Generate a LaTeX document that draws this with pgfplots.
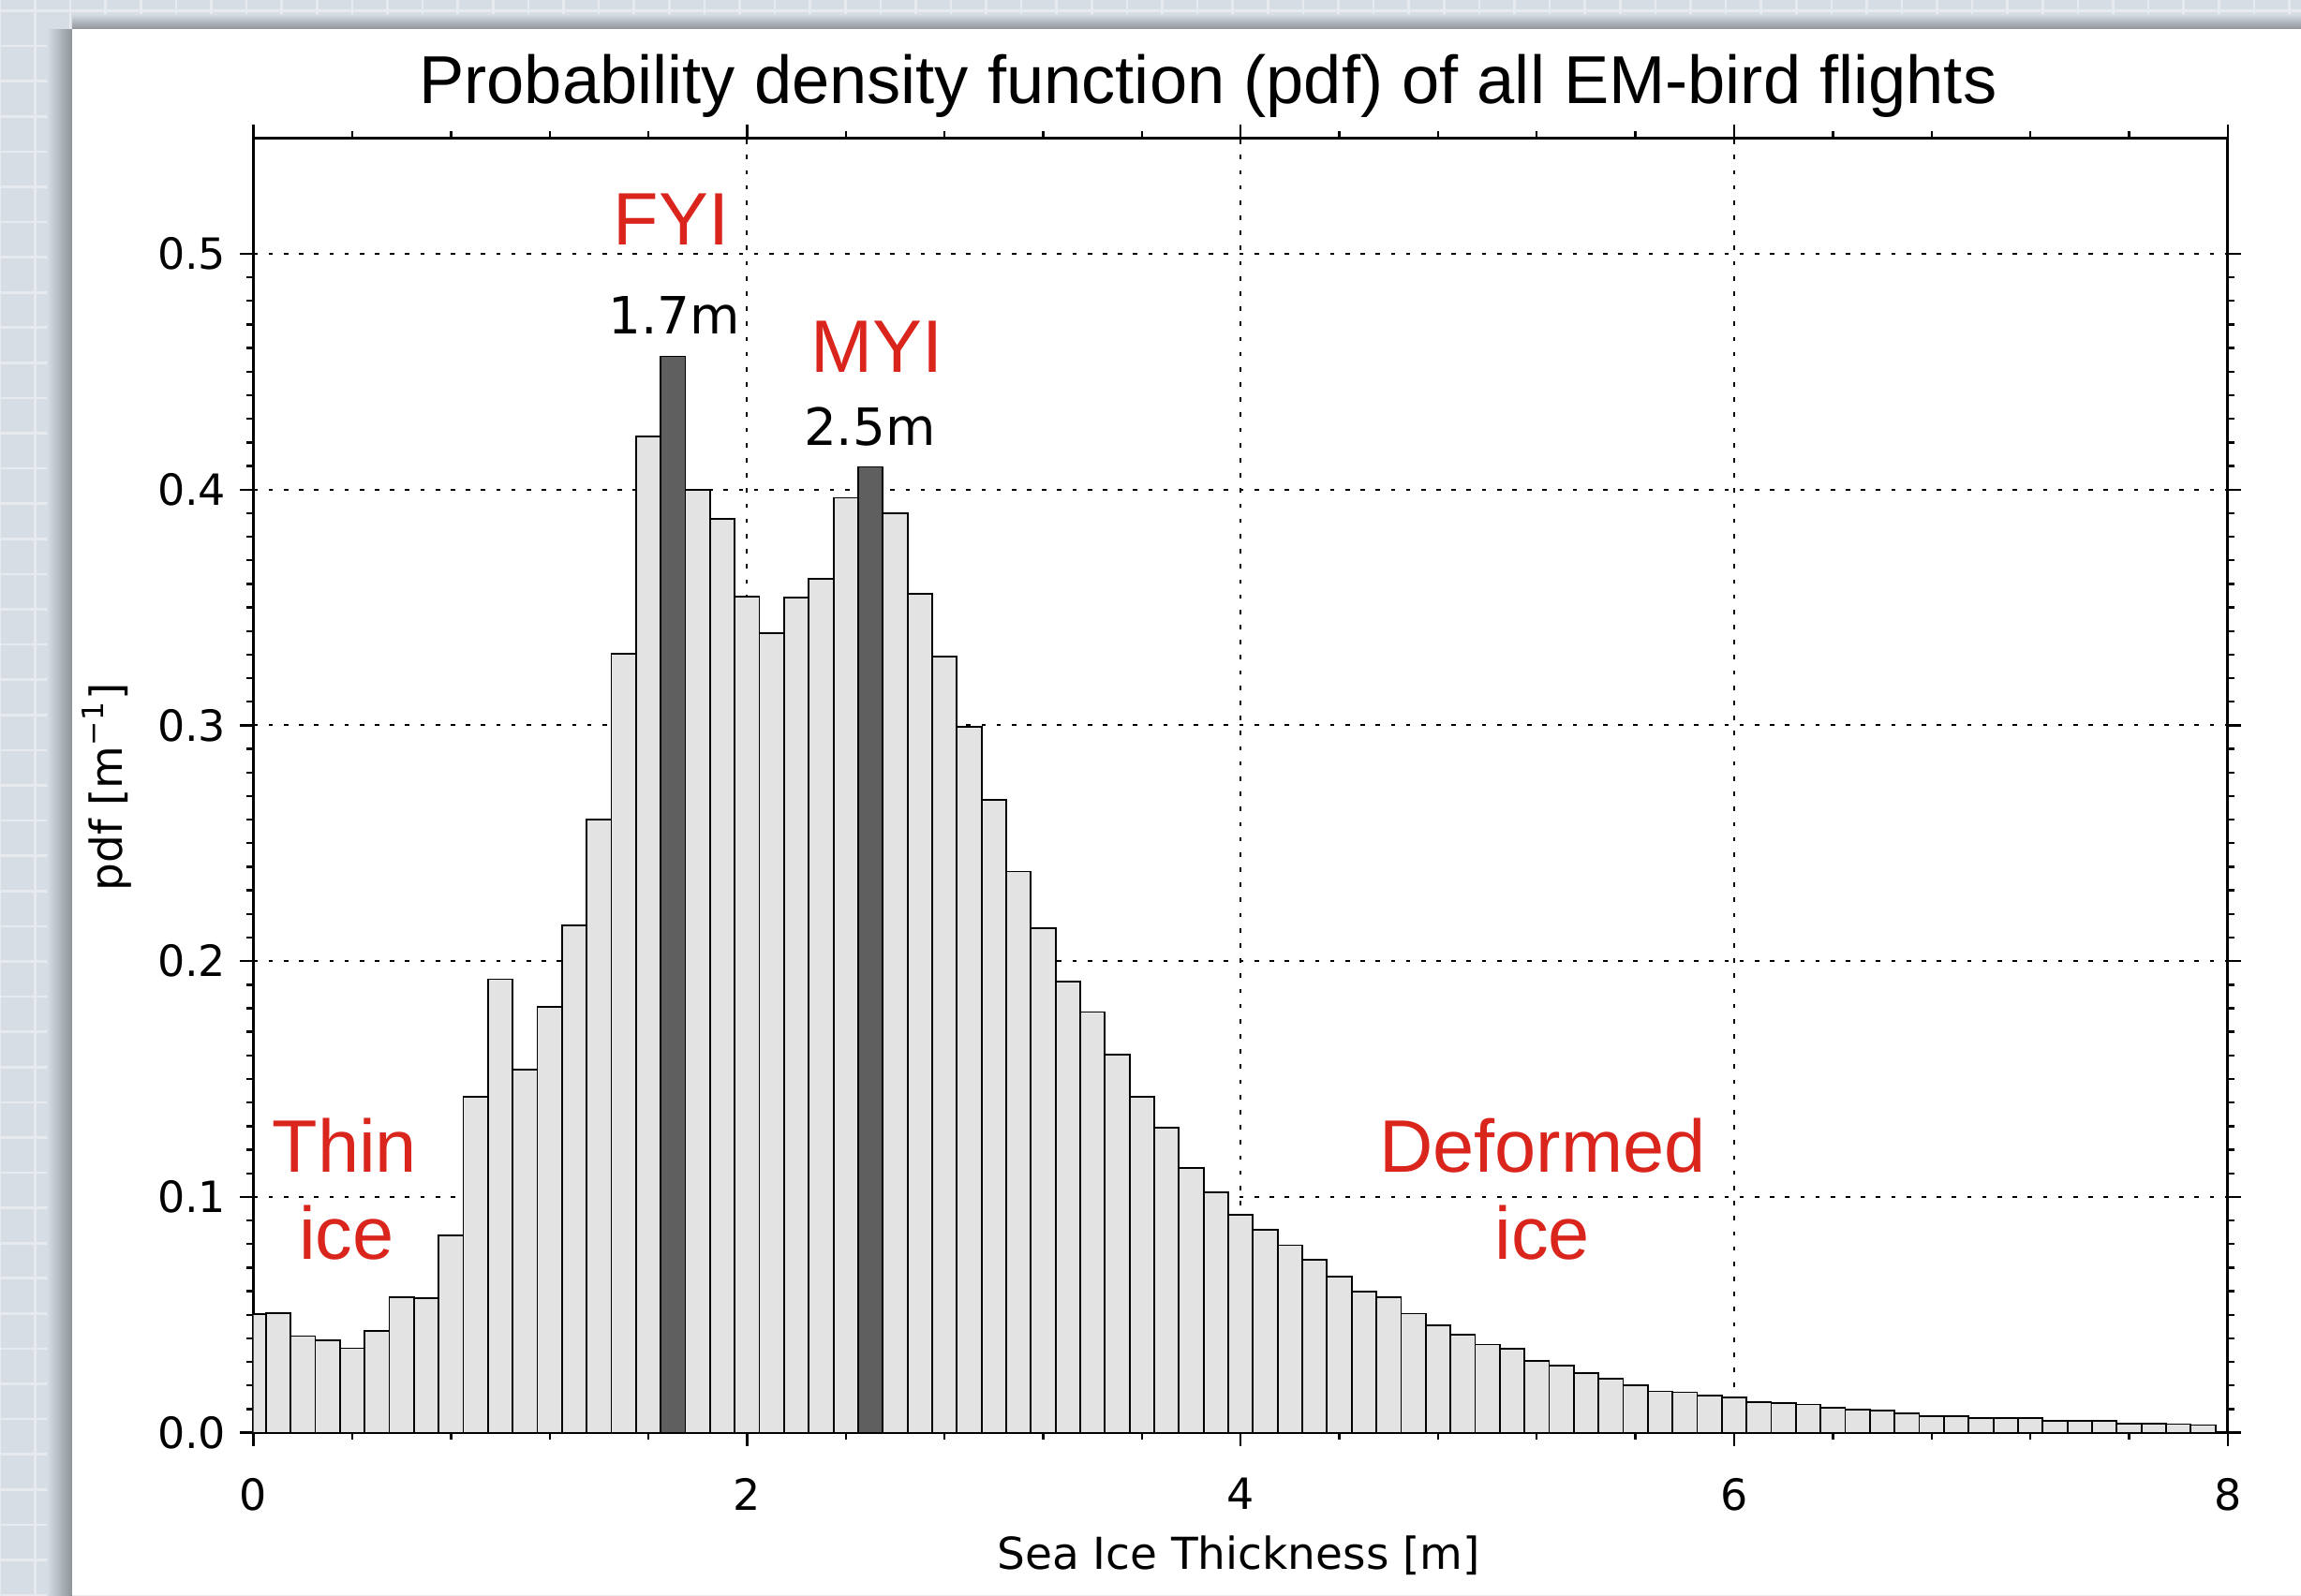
\documentclass[border=0pt]{standalone}
\usepackage{pgfplots}
\pgfplotsset{compat=1.18}
\usepackage{pgfplotstable}
\usepackage{fontspec}
\setmainfont{Liberation Sans}
\newfontfamily\idl{DejaVu Sans}

\definecolor{bgblue}{HTML}{D6DDE4}
\definecolor{bgline}{HTML}{E7EBEF}
\definecolor{shadow}{HTML}{8E9399}
\definecolor{lbar}{HTML}{E3E3E3}
\definecolor{dbar}{HTML}{5F5F5F}
\definecolor{lblred}{HTML}{DA251D}

% bin centres (0.1 m bins) and pdf values
\pgfplotstableread{
x y
0.0 0.0502
0.1 0.0507
0.2 0.0410
0.3 0.0393
0.4 0.0358
0.5 0.0433
0.6 0.0573
0.7 0.0569
0.8 0.0836
0.9 0.1425
1.0 0.1923
1.1 0.1540
1.2 0.1806
1.3 0.2152
1.4 0.2600
1.5 0.3305
1.6 0.4224
1.8 0.4000
1.9 0.3875
2.0 0.3546
2.1 0.3391
2.2 0.3543
2.3 0.3621
2.4 0.3965
2.6 0.3898
2.7 0.3557
2.8 0.3292
2.9 0.2993
3.0 0.2683
3.1 0.2380
3.2 0.2141
3.3 0.1913
3.4 0.1784
3.5 0.1604
3.6 0.1424
3.7 0.1294
3.8 0.1123
3.9 0.1020
4.0 0.0925
4.1 0.0860
4.2 0.0795
4.3 0.0733
4.4 0.0663
4.5 0.0599
4.6 0.0575
4.7 0.0505
4.8 0.0455
4.9 0.0416
5.0 0.0374
5.1 0.0357
5.2 0.0303
5.3 0.0283
5.4 0.0253
5.5 0.0229
5.6 0.0201
5.7 0.0175
5.8 0.0171
5.9 0.0159
6.0 0.0148
6.1 0.0128
6.2 0.0124
6.3 0.0120
6.4 0.0106
6.5 0.0098
6.6 0.0094
6.7 0.0082
6.8 0.0071
6.9 0.0071
7.0 0.0061
7.1 0.0063
7.2 0.0061
7.3 0.0050
7.4 0.0050
7.5 0.0050
7.6 0.0039
7.7 0.0039
7.8 0.0036
7.9 0.0032
}\lightbars

% modal bins
\pgfplotstableread{
x y
1.7 0.4565
2.5 0.4096
}\darkbars

\begin{document}
\begin{tikzpicture}
% page background with faint grid and drop shadow
\fill[bgblue] (0,0) rectangle (470.4pt,326.2pt);
\foreach \i in {0,...,66} \draw[bgline,line width=0.5pt] (\i*7.2pt,0) -- (\i*7.2pt,326.2pt);
\foreach \i in {0,...,46} \draw[bgline,line width=0.5pt] (0,\i*7.2pt) -- (470.4pt,\i*7.2pt);
\shade[left color=bgblue,right color=shadow] (9.6pt,0) rectangle (14.75pt,320.2pt);
\shade[top color=bgblue,bottom color=shadow] (14.75pt,320.2pt) rectangle (470.4pt,323.3pt);
\fill[white] (14.75pt,0) rectangle (470.4pt,320.2pt);

\begin{axis}[
  at={(51.83pt,33.23pt)}, anchor=south west,
  scale only axis, width=403.6pt, height=264.7pt,
  xmin=0, xmax=8, ymin=0, ymax=0.549,
  axis line style={line width=0.6pt},
  xtick={0,2,4,6,8},
  ytick={0,0.1,0.2,0.3,0.4,0.5},
  minor x tick num=4, minor y tick num=9,
  tick align=outside,
  major tick length=2.8pt, minor tick length=1.4pt,
  every tick/.style={black,line width=0.45pt},
  grid=major,
  major grid style={black,line width=0.4pt,dash pattern=on 0.9pt off 2.2pt},
  /pgf/number format/assume math mode=true,
  ticklabel style={font=\idl\fontsize{8.8}{10}\selectfont},
  xticklabel style={yshift=-3pt},
  yticklabel style={xshift=0.7pt,/pgf/number format/fixed,/pgf/number format/fixed zerofill,/pgf/number format/precision=1},
  title={Probability density function (pdf) of all EM-bird flights},
  title style={font=\fontsize{13.85}{16}\selectfont,at={(axis description cs:0.4835,1.027)},anchor=base,yshift=-6pt},
  xlabel={Sea Ice Thickness [m]},
  xlabel style={font=\idl\fontsize{9}{10}\selectfont,at={(axis description cs:0.499,-0.1053)},anchor=base},
  ylabel={pdf [m\textsuperscript{−1}]},
  ylabel style={font=\idl\fontsize{9}{10}\selectfont,at={(axis description cs:-0.0667,0.4988)},anchor=base},
]
\addplot[ybar,bar width=0.1,bar shift=0pt,fill=lbar,draw=black,line width=0.35pt] table[x=x,y=y]{\lightbars};
\addplot[ybar,bar width=0.1,bar shift=0pt,fill=dbar,draw=black,line width=0.35pt] table[x=x,y=y]{\darkbars};

\node[anchor=base,text=lblred,font=\fontsize{15.2}{18}\selectfont] at (axis cs:1.693,0.5037) {FYI};
\node[anchor=base,font=\idl\fontsize{10.5}{12}\selectfont] at (axis cs:1.706,0.4661) {1.7m};
\node[anchor=base,text=lblred,font=\fontsize{15.2}{18}\selectfont] at (axis cs:2.525,0.4498) {MYI};
\node[anchor=base,font=\idl\fontsize{10.5}{12}\selectfont] at (axis cs:2.497,0.4186) {2.5m};
\node[anchor=base,text=lblred,font=\fontsize{15.2}{18}\selectfont] at (axis cs:0.369,0.1104) {Thin};
\node[anchor=base,text=lblred,font=\fontsize{15.2}{18}\selectfont] at (axis cs:0.377,0.0737) {ice};
\node[anchor=base,text=lblred,font=\fontsize{15.2}{18}\selectfont] at (axis cs:5.223,0.1104) {Deformed};
\node[anchor=base,text=lblred,font=\fontsize{15.2}{18}\selectfont] at (axis cs:5.223,0.0737) {ice};
\end{axis}
\pgfresetboundingbox
\useasboundingbox (0,0) rectangle (470.4pt,326.2pt);
\end{tikzpicture}
\end{document}
